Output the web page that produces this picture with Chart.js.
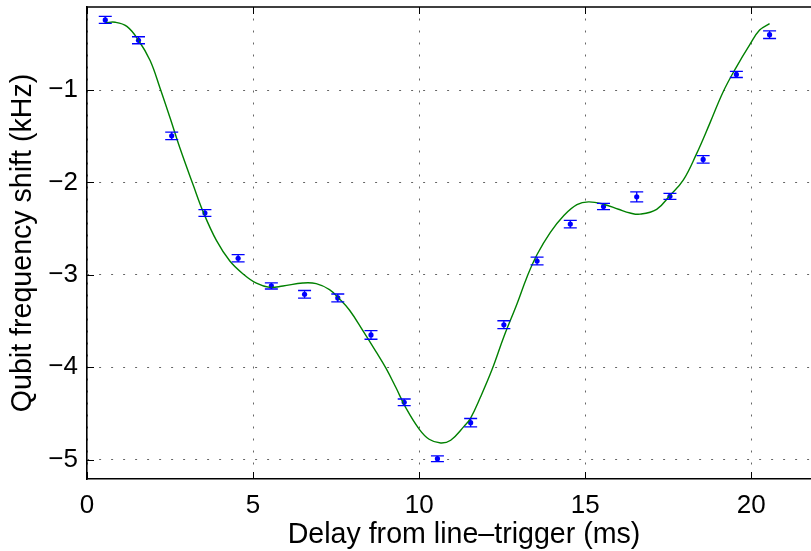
<!DOCTYPE html>
<html>
<head>
<meta charset="utf-8">
<title>Qubit frequency shift vs delay</title>
<script src="https://cdn.jsdelivr.net/npm/chart.js@4"></script>
<style>
  html, body { margin: 0; padding: 0; background: #fff; overflow: hidden; }
  #wrap { width: 811px; height: 551px; overflow: hidden; }
</style>
</head>
<body>
<div id="wrap"><canvas id="shiftChart" width="845" height="551"></canvas></div>
<script>
// measured shift at each delay after the line trigger, with 1-sigma errors
const delayMs = [0.55, 1.55, 2.55, 3.55, 4.55, 5.55, 6.55, 7.55, 8.55, 9.55, 10.55,
                 11.55, 12.55, 13.55, 14.55, 15.55, 16.55, 17.55, 18.55, 19.55, 20.55];
const shiftKHz = [-0.24, -0.46, -1.495, -2.33, -2.82, -3.12, -3.21, -3.25, -3.65, -4.38, -4.99,
                  -4.60, -3.54, -2.85, -2.45, -2.26, -2.155, -2.15, -1.75, -0.83, -0.40];
const shiftErr = [0.038, 0.038, 0.041, 0.036, 0.040, 0.033, 0.041, 0.043, 0.047, 0.036, 0.031,
                  0.045, 0.043, 0.041, 0.041, 0.034, 0.054, 0.033, 0.040, 0.033, 0.041];

// fitted curve, sampled along the delay axis
const fitDelay = [0.55, 0.85, 1.2, 1.55, 1.9, 2.2, 2.5, 2.8, 3.2, 3.5, 3.9, 4.3, 4.7, 5.1, 5.5,
                  5.9, 6.5, 6.9, 7.3, 7.6, 7.9, 8.3, 8.7, 9.0, 9.3, 9.6, 10.0, 10.3, 10.65, 10.95,
                  11.35, 11.55, 11.85, 12.2, 12.55, 12.95, 13.25, 13.55, 13.95, 14.35, 14.75, 15.1,
                  15.55, 16.0, 16.35, 16.65, 17.15, 17.55, 17.95, 18.35, 18.75, 19.15, 19.55, 19.95,
                  20.25, 20.55];
const fitShift = [-0.27, -0.265, -0.31, -0.46, -0.68, -0.98, -1.30, -1.63, -2.03, -2.32, -2.63,
                  -2.85, -2.99, -3.09, -3.135, -3.12, -3.088, -3.095, -3.16, -3.26, -3.38, -3.60,
                  -3.83, -4.01, -4.22, -4.44, -4.67, -4.78, -4.82, -4.79, -4.64, -4.55, -4.32,
                  -4.02, -3.67, -3.31, -3.02, -2.78, -2.54, -2.36, -2.24, -2.21, -2.235, -2.29,
                  -2.33, -2.343, -2.29, -2.14, -1.975, -1.69, -1.36, -1.02, -0.75, -0.51, -0.35,
                  -0.28];

const xTicks = [0, 5, 10, 15, 20];
const yTicks = [-5, -4, -3, -2, -1];

const FONT = '"Liberation Sans", Arial, Helvetica, sans-serif';

// vertical error bars with caps, drawn on top of the points
const errorBars = {
  id: 'errorBars',
  afterDatasetsDraw(chart) {
    const { ctx, scales: { x, y } } = chart;
    ctx.save();
    ctx.strokeStyle = '#0000ff';
    ctx.lineWidth = 1.3;
    delayMs.forEach((d, i) => {
      const px = x.getPixelForValue(d);
      const top = y.getPixelForValue(shiftKHz[i] + shiftErr[i]);
      const bot = y.getPixelForValue(shiftKHz[i] - shiftErr[i]);
      ctx.beginPath();
      ctx.moveTo(px, top); ctx.lineTo(px, bot);
      ctx.moveTo(px - 6.5, top); ctx.lineTo(px + 6.5, top);
      ctx.moveTo(px - 6.5, bot); ctx.lineTo(px + 6.5, bot);
      ctx.stroke();
    });
    ctx.restore();
  }
};

// closed box: top and right edges plus tick marks pointing into the plot
const boxTicks = {
  id: 'boxTicks',
  afterDraw(chart) {
    const { ctx, chartArea: a, scales: { x, y } } = chart;
    ctx.save();
    ctx.strokeStyle = '#000';
    ctx.lineWidth = 1.6;
    ctx.beginPath();
    ctx.moveTo(a.left, a.top); ctx.lineTo(a.right, a.top);
    ctx.moveTo(a.right, a.top); ctx.lineTo(a.right, a.bottom);
    ctx.stroke();
    ctx.lineWidth = 1;
    ctx.beginPath();
    x.ticks.forEach(t => {
      const px = Math.round(x.getPixelForValue(t.value)) + 0.5;
      ctx.moveTo(px, a.bottom); ctx.lineTo(px, a.bottom - 7);
      ctx.moveTo(px, a.top); ctx.lineTo(px, a.top + 7);
    });
    y.ticks.forEach(t => {
      const py = Math.round(y.getPixelForValue(t.value)) + 0.5;
      ctx.moveTo(a.left, py); ctx.lineTo(a.left + 7, py);
      ctx.moveTo(a.right, py); ctx.lineTo(a.right - 7, py);
    });
    ctx.stroke();
    ctx.restore();
  }
};

const minusSign = v => String(v).replace('-', '\u2212');

new Chart(document.getElementById('shiftChart'), {
  type: 'scatter',
  data: {
    datasets: [
      {
        label: 'Fit',
        data: fitDelay.map((d, i) => ({ x: d, y: fitShift[i] })),
        showLine: true,
        borderColor: '#008000',
        borderWidth: 1.4,
        pointRadius: 0,
        tension: 0.4
      },
      {
        label: 'Measured',
        data: delayMs.map((d, i) => ({ x: d, y: shiftKHz[i] })),
        backgroundColor: '#0000ff',
        borderWidth: 0,
        pointRadius: 2.6
      }
    ]
  },
  options: {
    responsive: false,
    animation: false,
    devicePixelRatio: 1,
    layout: { padding: { top: 7, right: 0, bottom: 0, left: 0 } },
    plugins: { legend: { display: false }, tooltip: { enabled: false } },
    scales: {
      x: {
        type: 'linear',
        min: 0,
        max: 22.7,
        afterBuildTicks: s => { s.ticks = xTicks.map(v => ({ value: v })); },
        afterFit: s => { s.height = 72; s.paddingLeft = 0; s.paddingRight = 0; },
        ticks: {
          color: '#000',
          font: { family: FONT, size: 26 },
          padding: 11,
          maxRotation: 0,
          autoSkip: false,
          callback: minusSign
        },
        grid: { color: 'rgba(0,0,0,0.6)', lineWidth: 1, drawTicks: false },
        border: { color: '#000', width: 1.6, dash: [2, 10], dashOffset: 0.5 },
        title: {
          display: true,
          text: 'Delay from line\u2013trigger (ms)',
          color: '#000',
          font: { family: FONT, size: 28.6, lineHeight: 1 },
          padding: { top: 0, bottom: 2 }
        }
      },
      y: {
        type: 'linear',
        min: -5.21,
        max: -0.1,
        afterBuildTicks: s => { s.ticks = yTicks.map(v => ({ value: v })); },
        afterFit: s => { s.width = 87; s.paddingTop = 0; s.paddingBottom = 0; },
        ticks: {
          color: '#000',
          font: { family: FONT, size: 26 },
          padding: 9,
          callback: minusSign
        },
        grid: { color: 'rgba(0,0,0,0.6)', lineWidth: 1, drawTicks: false },
        border: { color: '#000', width: 1.6, dash: [2, 10], dashOffset: 0.5 },
        title: {
          display: true,
          text: 'Qubit frequency shift (kHz)',
          color: '#000',
          font: { family: FONT, size: 28.6, lineHeight: 1 },
          padding: { top: 9, bottom: 0 }
        }
      }
    }
  },
  plugins: [errorBars, boxTicks]
});
</script>
</body>
</html>
